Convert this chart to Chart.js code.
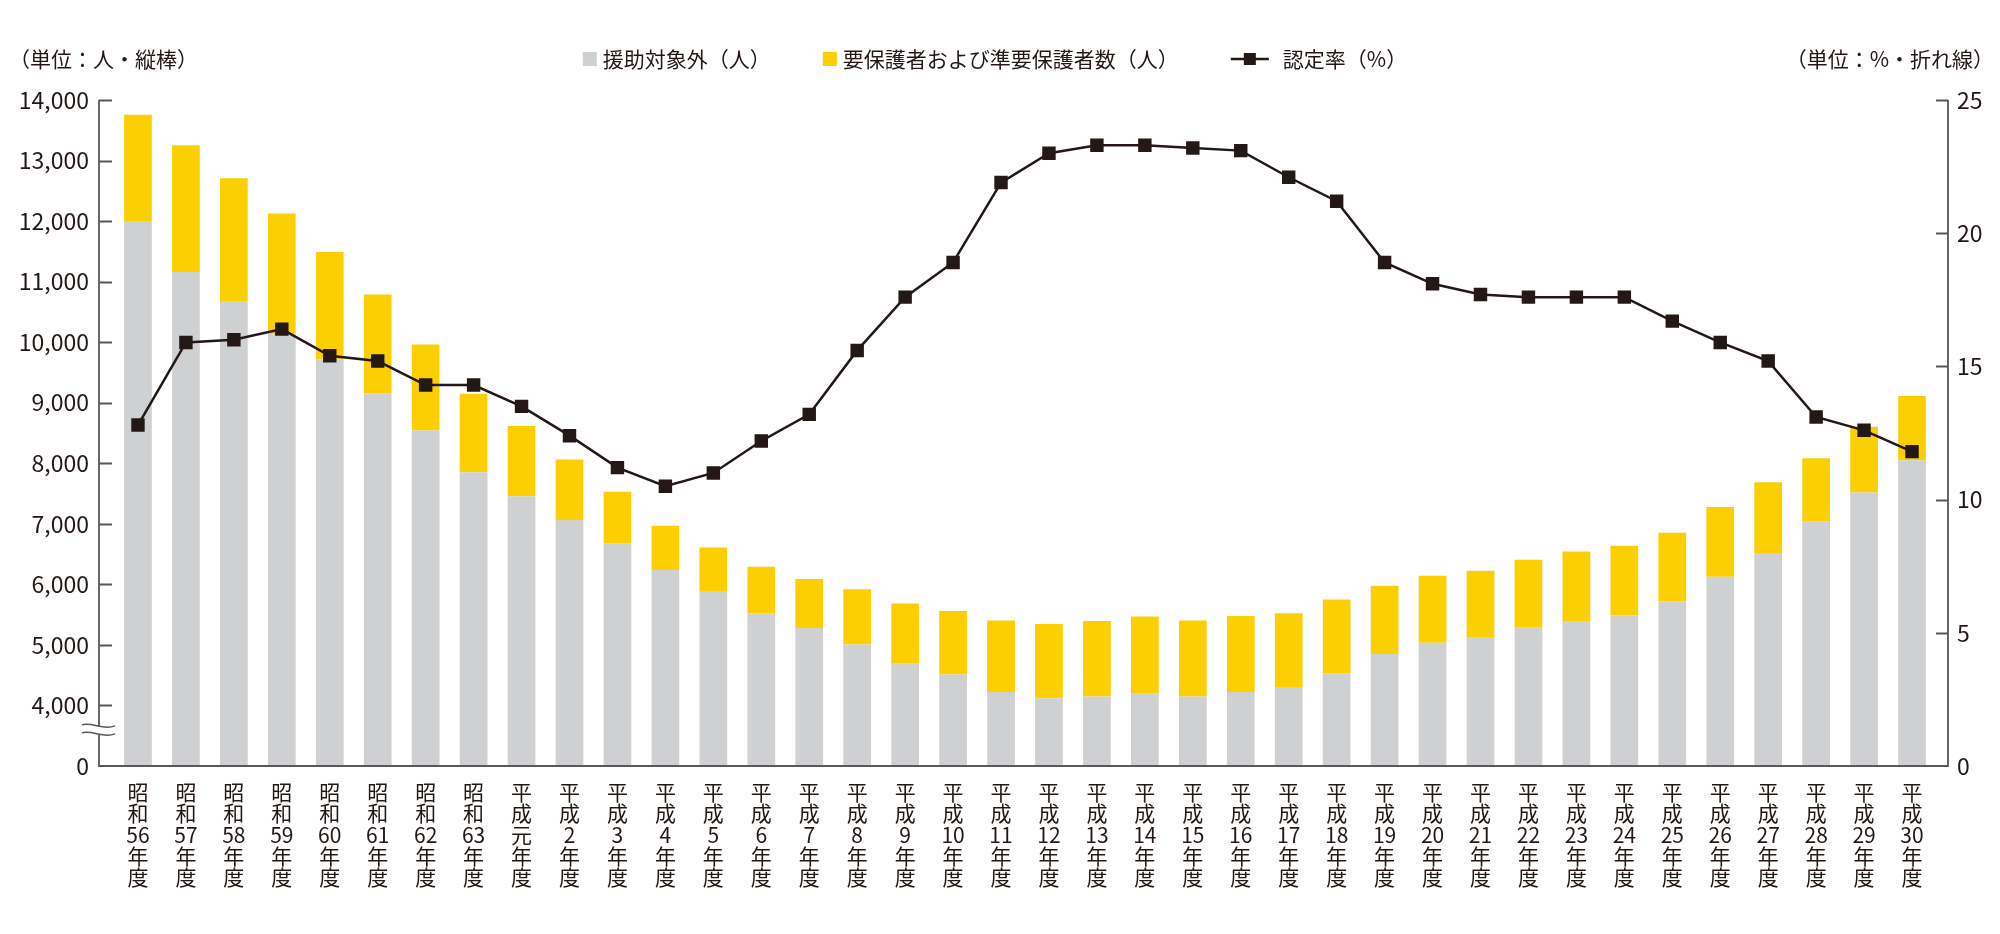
<!DOCTYPE html>
<html lang="ja">
<head>
<meta charset="utf-8">
<title>認定率の推移</title>
<script src="https://cdn.jsdelivr.net/npm/chart.js"></script>
<style>
  html, body { margin: 0; padding: 0; background: #fff; }
  #wrap { width: 2000px; height: 934px; }
</style>
</head>
<body>
<div id="wrap"><canvas id="chart" width="2000" height="934"></canvas></div>
<script>
// --- DATA ---
const years = [
  '昭和56年度', '昭和57年度', '昭和58年度', '昭和59年度', '昭和60年度', '昭和61年度', '昭和62年度', '昭和63年度',
  '平成元年度', '平成2年度', '平成3年度', '平成4年度', '平成5年度', '平成6年度', '平成7年度', '平成8年度',
  '平成9年度', '平成10年度', '平成11年度', '平成12年度', '平成13年度', '平成14年度', '平成15年度', '平成16年度',
  '平成17年度', '平成18年度', '平成19年度', '平成20年度', '平成21年度', '平成22年度', '平成23年度', '平成24年度',
  '平成25年度', '平成26年度', '平成27年度', '平成28年度', '平成29年度', '平成30年度'
];

// 援助対象外（人）
const notCovered = [
  12000, 11160, 10680, 10130, 9720, 9155, 8540, 7850,
  7457, 7065, 6680, 6238, 5890, 5520, 5280, 5005,
  4687, 4510, 4222, 4118, 4148, 4192, 4148, 4222,
  4303, 4532, 4849, 5034, 5130, 5285, 5396, 5485,
  5721, 6127, 6519, 7036, 7516, 8048
];

// 要保護者および準要保護者数（人）
const covered = [
  1756, 2094, 2028, 1995, 1769, 1633, 1420, 1298,
  1159, 997, 851, 731, 717, 770, 810, 915,
  997, 1048, 1181, 1226, 1248, 1278, 1255, 1255,
  1219, 1218, 1130, 1108, 1093, 1123, 1145, 1152,
  1130, 1152, 1167, 1048, 1086, 1063
];

// 認定率（%）
const rate = [
  12.8, 15.9, 16.0, 16.4, 15.4, 15.2, 14.3, 14.3,
  13.5, 12.4, 11.2, 10.5, 11.0, 12.2, 13.2, 15.6,
  17.6, 18.9, 21.9, 23.0, 23.3, 23.3, 23.2, 23.1,
  22.1, 21.2, 18.9, 18.1, 17.7, 17.6, 17.6, 17.6,
  16.7, 15.9, 15.2, 13.1, 12.6, 11.8
];

const leftTicks = [0, 4000, 5000, 6000, 7000, 8000, 9000, 10000, 11000, 12000, 13000, 14000];
const rightTicks = [0, 5, 10, 15, 20, 25];

// the left axis is cut between 0 and 4,000 (one step is shown for the gap)
const AXIS_BREAK = 3000;

const INK = '#231815';
const AXIS = '#595757';
const GRAY = '#cfd0d2';
const YELLOW = '#fcd000';
const FONT = "'Noto Sans CJK JP', 'Noto Sans', sans-serif";

// vertical labels: one char per line, numbers kept together
const stacked = s => [s[0], s[1], s.slice(2, -2), '年', '度'];

// --- PLUGINS ---
const frame = {
  id: 'frame',
  afterDatasetsDraw(chart) {
    const { ctx, chartArea: a, scales } = chart;
    const L = a.left - 15, R = a.right + 12, B = a.bottom;
    ctx.save();
    ctx.strokeStyle = AXIS;
    ctx.lineWidth = 1.8;
    ctx.beginPath();
    ctx.moveTo(L, a.top); ctx.lineTo(L, B); ctx.lineTo(R, B); ctx.lineTo(R, a.top);
    scales.y.ticks.forEach(t => {
      if (t.value === 0) return;
      const y = Math.round(scales.y.getPixelForValue(t.value)) + 0.5;
      ctx.moveTo(L, y); ctx.lineTo(L + 13, y);
    });
    scales.y1.ticks.forEach(t => {
      if (t.value === 0) return;
      const y = Math.round(scales.y1.getPixelForValue(t.value)) + 0.5;
      ctx.moveTo(R, y); ctx.lineTo(R - 12, y);
    });
    ctx.stroke();

    // break mark on the left axis
    const y0 = scales.y.getPixelForValue(0), y1 = scales.y.getPixelForValue(1000);
    const yb = y1 + (y0 - y1) * 0.42;
    ctx.fillStyle = '#fff';
    ctx.fillRect(L - 3, yb - 4, 6, 8);
    ctx.lineWidth = 1.5;
    [-4, 4].forEach(d => {
      ctx.beginPath();
      ctx.moveTo(L - 17, yb + d - 2);
      ctx.bezierCurveTo(L - 6, yb + d - 5, L + 4, yb + d + 4, L + 16, yb + d - 1);
      ctx.stroke();
    });
    ctx.restore();
  }
};

const headings = {
  id: 'headings',
  afterDraw(chart) {
    const { ctx } = chart;
    const y = 59;
    ctx.save();
    ctx.font = '21px ' + FONT;
    ctx.fillStyle = INK;
    ctx.textBaseline = 'middle';

    ctx.textAlign = 'left';
    ctx.fillText('（単位：人・縦棒）', 9, y);
    ctx.textAlign = 'right';
    ctx.fillText('（単位：%・折れ線）', 1994, y);

    // legend
    const items = [
      { text: '援助対象外（人）', kind: 'box', color: GRAY, sym: 14, gap: 6 },
      { text: '要保護者および準要保護者数（人）', kind: 'box', color: YELLOW, sym: 14, gap: 6 },
      { text: '認定率（%）', kind: 'line', color: INK, sym: 38, gap: 14 }
    ];
    const space = 52;
    let total = 0;
    items.forEach((it, i) => {
      it.w = ctx.measureText(it.text).width;
      total += it.sym + it.gap + it.w + (i ? space : 0);
    });
    let x = 995 - total / 2;
    ctx.textAlign = 'left';
    items.forEach(it => {
      if (it.kind === 'box') {
        ctx.fillStyle = it.color;
        ctx.fillRect(x, y - 7, 14, 14);
      } else {
        ctx.strokeStyle = it.color;
        ctx.lineWidth = 2.5;
        ctx.beginPath(); ctx.moveTo(x, y); ctx.lineTo(x + it.sym, y); ctx.stroke();
        ctx.fillStyle = it.color;
        ctx.fillRect(x + it.sym / 2 - 6, y - 6, 12, 12);
      }
      x += it.sym + it.gap;
      ctx.fillStyle = INK;
      ctx.fillText(it.text, x, y);
      x += it.w + space;
    });
    ctx.restore();
  }
};

// --- CHART ---
new Chart(document.getElementById('chart'), {
  data: {
    labels: years.map(stacked),
    datasets: [
      {
        type: 'line',
        label: '認定率（%）',
        data: rate,
        yAxisID: 'y1',
        order: 0,
        borderColor: INK,
        borderWidth: 2.5,
        backgroundColor: INK,
        pointStyle: 'rect',
        pointRadius: 9.5,
        pointBorderWidth: 0,
        tension: 0
      },
      {
        type: 'bar',
        label: '援助対象外（人）',
        data: notCovered.map(v => v - AXIS_BREAK),
        yAxisID: 'y',
        order: 1,
        backgroundColor: GRAY,
        barPercentage: 0.578,
        categoryPercentage: 1
      },
      {
        type: 'bar',
        label: '要保護者および準要保護者数（人）',
        data: covered,
        yAxisID: 'y',
        order: 1,
        backgroundColor: YELLOW,
        barPercentage: 0.578,
        categoryPercentage: 1
      }
    ]
  },
  options: {
    responsive: false,
    animation: false,
    devicePixelRatio: 1,
    layout: { padding: { top: 100, left: 0, right: 0, bottom: 0 } },
    plugins: { legend: { display: false }, tooltip: { enabled: false } },
    scales: {
      x: {
        stacked: true,
        grid: { display: false, drawTicks: false },
        border: { display: false },
        afterFit: s => { s.height = 168; },
        ticks: {
          autoSkip: false, maxRotation: 0, minRotation: 0, padding: 15,
          color: INK, font: { family: FONT, size: 21, lineHeight: 1.02 }
        }
      },
      y: {
        position: 'left',
        stacked: true,
        min: 0,
        max: 14000 - AXIS_BREAK,
        grid: { display: false, drawTicks: false },
        border: { display: false },
        afterFit: s => { s.width = 114; },
        afterBuildTicks: s => {
          s.ticks = leftTicks.map(v => ({ value: v === 0 ? 0 : v - AXIS_BREAK }));
        },
        ticks: {
          padding: 25, color: INK, font: { family: FONT, size: 23 },
          callback: v => v === 0 ? '0' : (v + AXIS_BREAK).toLocaleString('en-US')
        }
      },
      y1: {
        position: 'right',
        min: 0,
        max: 25,
        grid: { display: false, drawTicks: false },
        border: { display: false },
        afterFit: s => { s.width = 64; },
        afterBuildTicks: s => { s.ticks = rightTicks.map(v => ({ value: v })); },
        ticks: { padding: 21, color: INK, font: { family: FONT, size: 23 } }
      }
    }
  },
  plugins: [frame, headings]
});
</script>
</body>
</html>
